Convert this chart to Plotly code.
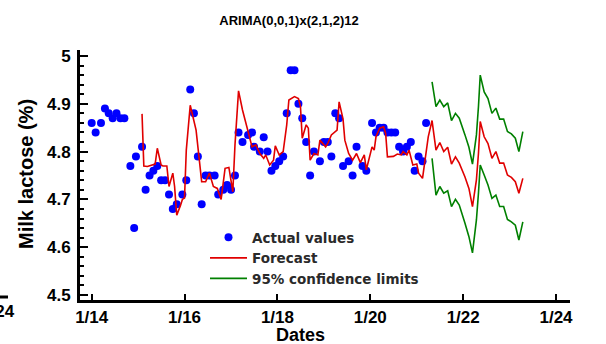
import plotly.graph_objects as go

# ---- Actual values (blue points) ----
actual_dates = [
    "2014-01-01", "2014-02-01", "2014-03-15", "2014-04-15", "2014-05-15", "2014-06-15",
    "2014-07-15", "2014-08-15", "2014-09-15", "2014-11-01", "2014-12-01", "2014-12-15",
    "2015-02-01", "2015-03-01", "2015-04-01", "2015-05-01", "2015-06-01", "2015-07-01",
    "2015-08-01", "2015-09-01", "2015-10-01", "2015-11-01", "2015-12-15", "2016-01-15",
    "2016-02-15", "2016-03-15", "2016-04-15", "2016-05-15", "2016-06-15", "2016-07-15",
    "2016-08-25", "2016-09-22", "2016-11-01", "2016-12-01", "2017-01-01", "2017-02-01",
    "2017-03-01", "2017-04-01", "2017-05-15", "2017-06-15", "2017-07-01", "2017-08-15",
    "2017-09-15", "2017-10-15", "2017-11-15", "2017-12-15", "2018-01-15", "2018-02-15",
    "2018-03-15", "2018-04-15", "2018-05-15", "2018-06-15", "2018-07-15", "2018-08-15",
    "2018-09-15", "2018-10-15", "2018-12-01", "2019-01-01", "2019-02-01", "2019-03-01",
    "2019-04-01", "2019-05-01", "2019-06-01", "2019-07-15", "2019-08-15", "2019-09-15",
    "2019-11-01", "2019-12-01", "2020-01-15", "2020-02-15", "2020-03-15", "2020-04-15",
    "2020-05-15", "2020-06-15", "2020-07-15", "2020-08-15", "2020-09-15", "2020-10-15",
    "2020-11-15", "2020-12-15", "2021-01-15", "2021-02-15", "2021-03-15",
]
actual_values = [
    4.86, 4.84, 4.86, 4.89, 4.88, 4.87,
    4.88, 4.87, 4.87, 4.77, 4.64, 4.79,
    4.81, 4.72, 4.75, 4.76, 4.77, 4.74,
    4.74, 4.71, 4.68, 4.69, 4.71, 4.74,
    4.93, 4.88, 4.79, 4.69, 4.75, 4.75,
    4.75, 4.71, 4.72, 4.73, 4.72, 4.75,
    4.84, 4.82, 4.835, 4.84, 4.81, 4.80,
    4.83, 4.80, 4.76, 4.77, 4.78, 4.79,
    4.88, 4.97, 4.97, 4.90, 4.87, 4.82,
    4.75, 4.80, 4.78, 4.82, 4.82, 4.79,
    4.88, 4.87, 4.77, 4.78, 4.75, 4.81,
    4.77, 4.76, 4.86, 4.84, 4.85, 4.85,
    4.84, 4.84, 4.84, 4.81, 4.80, 4.81,
    4.82, 4.76, 4.79, 4.78, 4.86,
]

# ---- Forecast (fitted + out-of-sample, red line) ----
forecast_dates = [
    "2015-02-01", "2015-02-15", "2015-03-15", "2015-05-01", "2015-05-15", "2015-06-01",
    "2015-07-01", "2015-07-15", "2015-08-15", "2015-09-01", "2015-10-01", "2015-10-15",
    "2015-11-01", "2015-12-01", "2015-12-15", "2016-01-01", "2016-01-15", "2016-02-15",
    "2016-03-01", "2016-04-01", "2016-05-15", "2016-06-15", "2016-07-15", "2016-08-15",
    "2016-09-15", "2016-10-15", "2016-11-15", "2016-12-15", "2017-01-15", "2017-02-01",
    "2017-03-01", "2017-04-01", "2017-05-15", "2017-06-15", "2017-07-15", "2017-08-15",
    "2017-09-15", "2017-10-01", "2017-11-01", "2017-12-01", "2017-12-15", "2018-01-15",
    "2018-02-15", "2018-03-15", "2018-04-01", "2018-05-15", "2018-06-15", "2018-07-01",
    "2018-07-15", "2018-08-15", "2018-09-01", "2018-09-15", "2018-10-15", "2018-11-15",
    "2018-12-01", "2019-01-15", "2019-02-01", "2019-03-01", "2019-04-15", "2019-05-01",
    "2019-06-01", "2019-06-15", "2019-07-15", "2019-08-15", "2019-09-15", "2019-10-15",
    "2019-11-15", "2019-12-01", "2020-01-15", "2020-02-01", "2020-02-15", "2020-03-15",
    "2020-04-15", "2020-05-01", "2020-05-15", "2020-07-01", "2020-08-01", "2020-09-01",
    "2020-09-15", "2020-10-15", "2020-11-01", "2020-12-01", "2021-01-01", "2021-01-15",
    "2021-02-15", "2021-03-15", "2021-04-01",
    "2021-05-01", "2021-06-01", "2021-07-01", "2021-08-01", "2021-09-01", "2021-10-01",
    "2021-11-01", "2021-12-01", "2022-01-15", "2022-02-15", "2022-03-15", "2022-04-15",
    "2022-05-01", "2022-05-15", "2022-06-15", "2022-07-15", "2022-08-15", "2022-09-15",
    "2022-10-15", "2022-11-15", "2022-12-15", "2023-01-15", "2023-02-15", "2023-03-15",
    "2023-04-15",
]
forecast_values = [
    4.879, 4.770, 4.769, 4.772, 4.774, 4.807,
    4.772, 4.770, 4.770, 4.727, 4.755, 4.727,
    4.667, 4.688, 4.700, 4.703, 4.803, 4.897,
    4.880, 4.845, 4.737, 4.737, 4.755, 4.727,
    4.723, 4.700, 4.765, 4.767, 4.716, 4.814,
    4.927, 4.887, 4.842, 4.810, 4.814, 4.796,
    4.786, 4.793, 4.772, 4.782, 4.812, 4.793,
    4.800, 4.856, 4.908, 4.915, 4.911, 4.894,
    4.828, 4.856, 4.849, 4.782, 4.796, 4.793,
    4.824, 4.810, 4.817, 4.835, 4.845, 4.904,
    4.868, 4.824, 4.796, 4.782, 4.796, 4.777,
    4.793, 4.762, 4.810, 4.803, 4.831, 4.849,
    4.852, 4.838, 4.789, 4.790, 4.795, 4.793,
    4.800, 4.793, 4.803, 4.772, 4.774, 4.755,
    4.744, 4.803, 4.831,
    4.865, 4.803, 4.819, 4.800, 4.809, 4.774,
    4.789, 4.776, 4.747, 4.723, 4.685, 4.741,
    4.796, 4.863, 4.831, 4.817, 4.786, 4.800,
    4.776, 4.776, 4.751, 4.746, 4.737, 4.713,
    4.744,
]

# ---- 95% confidence limits (green lines) ----
limit_dates = [
    "2021-05-01", "2021-06-01", "2021-07-01", "2021-08-01", "2021-09-01", "2021-10-01",
    "2021-11-01", "2021-12-01", "2022-01-15", "2022-02-15", "2022-03-15", "2022-04-15",
    "2022-05-01", "2022-05-15", "2022-06-15", "2022-07-15", "2022-08-15", "2022-09-15",
    "2022-10-15", "2022-11-15", "2022-12-15", "2023-01-15", "2023-02-15", "2023-03-15",
    "2023-04-15",
]
upper_limit = [
    4.946, 4.894, 4.908, 4.894, 4.902, 4.865,
    4.880, 4.870, 4.835, 4.809, 4.774, 4.835,
    4.894, 4.960, 4.925, 4.911, 4.880, 4.891,
    4.868, 4.868, 4.842, 4.837, 4.828, 4.800,
    4.842,
]
lower_limit = [
    4.786, 4.709, 4.727, 4.713, 4.718, 4.685,
    4.700, 4.688, 4.650, 4.622, 4.588, 4.657,
    4.713, 4.772, 4.751, 4.730, 4.702, 4.709,
    4.685, 4.685, 4.658, 4.653, 4.646, 4.615,
    4.653,
]

title_text = "ARIMA(0,0,1)x(2,1,2)12"
y_title = "Milk lactose (%)"
x_title = "Dates"

BLUE = "#0000ff"
RED = "#e00000"
GREEN = "#008000"
TICKFONT = dict(family="Liberation Sans, Arial, sans-serif", size=17, color="black", weight="bold")

fig = go.Figure()
fig.add_trace(go.Scatter(x=actual_dates, y=actual_values, mode="markers",
                         marker=dict(color=BLUE, size=8), name="Actual values"))
fig.add_trace(go.Scatter(x=forecast_dates, y=forecast_values, mode="lines",
                         line=dict(color=RED, width=1.6), name="Forecast"))
fig.add_trace(go.Scatter(x=limit_dates, y=upper_limit, mode="lines",
                         line=dict(color=GREEN, width=1.6), name="95% confidence limits"))
fig.add_trace(go.Scatter(x=limit_dates, y=lower_limit, mode="lines",
                         line=dict(color=GREEN, width=1.6), name="95% confidence limits",
                         showlegend=False))

W, H = 606, 344
L, R, T, B = 80, 36, 50, 44
pw, ph = W - L - R, H - T - B

def px_x(p):
    return (p - L) / pw

def px_y(p):
    return (H - B - p) / ph

fig.update_layout(
    width=W, height=H,
    margin=dict(l=L, r=R, t=T, b=B),
    paper_bgcolor="white", plot_bgcolor="white",
    title=dict(text=title_text, x=289 / W, xanchor="center", y=1 - 20 / H, yanchor="middle",
               font=dict(family="Liberation Sans Narrow, Arial Narrow, Liberation Sans", size=13,
                         color="black", weight="bold")),
    legend=dict(x=px_x(205), y=px_y(222), xanchor="left", yanchor="top",
                bgcolor="rgba(0,0,0,0)", borderwidth=0, tracegroupgap=0, itemwidth=37,
                font=dict(family="DejaVu Sans, sans-serif", size=13.5, color="#2a2a2a",
                          weight="bold")),
    showlegend=True,
)

fig.update_xaxes(
    type="date", range=["2013-10-01", "2024-04-20"],
    tick0="2014-01-01", dtick="M24", tickformat="%-m/%y",
    ticks="inside", ticklen=6, tickwidth=2, tickcolor="black",
    showline=True, linewidth=3, linecolor="black",
    showgrid=False, zeroline=False, tickfont=TICKFONT,
)
fig.update_yaxes(
    range=[4.4895, 5.0126], tick0=4.5, dtick=0.1,
    ticks="inside", ticklen=8, tickwidth=2, tickcolor="black", ticklabelstandoff=3,
    minor=dict(ticks="inside", dtick=0.02, ticklen=4, tickwidth=1.5, tickcolor="black", showgrid=False),
    showline=True, linewidth=3, linecolor="black",
    showgrid=False, zeroline=False, tickfont=TICKFONT,
)

fig.add_annotation(text=y_title, xref="paper", yref="paper", x=px_x(26), y=px_y(174),
                   xanchor="center", yanchor="middle", textangle=-90, showarrow=False,
                   font=dict(family="Liberation Sans, Arial, sans-serif", size=20, color="black",
                             weight="bold"))
fig.add_annotation(text=x_title, xref="paper", yref="paper", x=px_x(300), y=px_y(335),
                   xanchor="center", yanchor="middle", showarrow=False,
                   font=dict(family="Liberation Sans, Arial, sans-serif", size=18, color="black",
                             weight="bold"))
# Cropped edge of a neighbouring panel at the far left
fig.add_annotation(text="1/24", xref="paper", yref="paper", x=px_x(17), y=px_y(311),
                   xanchor="right", yanchor="middle", showarrow=False, font=TICKFONT)
fig.add_shape(type="line", xref="paper", yref="paper", x0=px_x(-5), x1=px_x(8),
              y0=px_y(297), y1=px_y(297), line=dict(color="black", width=3))

fig.write_html("out.html", config={"displayModeBar": False},
               post_script="document.body.style.margin='0px';document.body.style.padding='0px';")
